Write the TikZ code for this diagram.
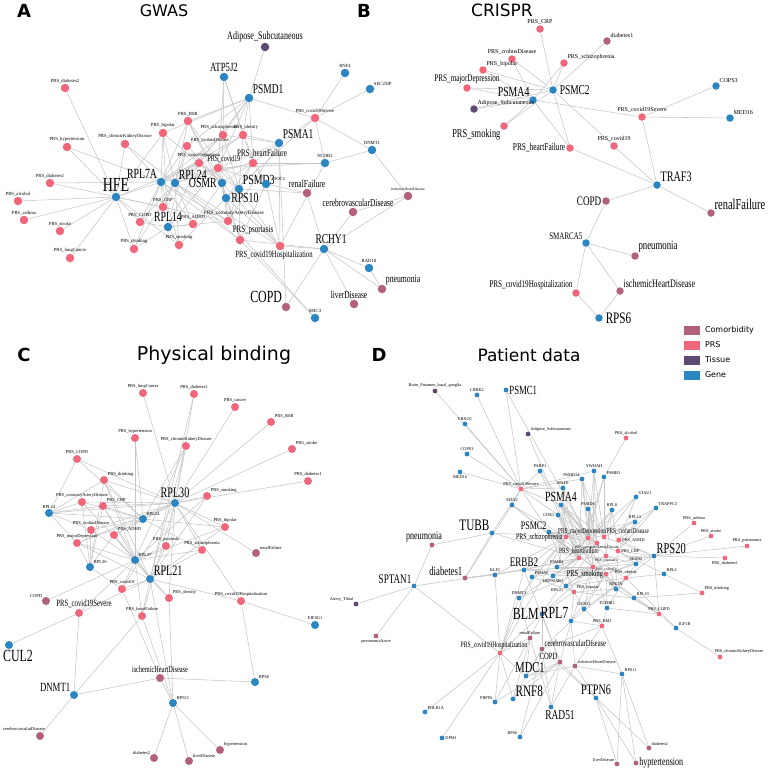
\documentclass[tikz,border=0pt]{standalone}
\usepackage{fontspec}
\usepackage{tikz}
\usetikzlibrary{backgrounds}
\newfontfamily\lbl{Liberation Serif}
\newfontfamily\lblc[FakeStretch=0.7]{Liberation Serif}
\newfontfamily\hdr{DejaVu Sans}
\definecolor{genec}{HTML}{2A85C0}
\definecolor{prsc}{HTML}{F0667A}
\definecolor{comc}{HTML}{B3607B}
\definecolor{tisc}{HTML}{5E4A72}
\definecolor{linec}{HTML}{C6C6C6}
\begin{document}
\begin{tikzpicture}
    [
    x=1pt,y=-1pt,
    nsz/.style={minimum size=8.5pt},
    gene/.style={circle,fill=genec,inner sep=0pt,nsz},
    prs/.style={circle,fill=prsc,inner sep=0pt,nsz},
    com/.style={circle,fill=comc,inner sep=0pt,nsz},
    tis/.style={circle,fill=tisc,inner sep=0pt,nsz},
    fs/.style={font=\lbl\fontsize{#1}{#1}\selectfont},
    fc/.style={font=\lblc\fontsize{#1}{#1}\selectfont},
    tl/.style={fs=4.7},
    every label/.style={inner sep=0.6pt,text=black},
    every edge/.style={draw=linec,line width=0.55pt},
    ttl/.style={font=\hdr\fontsize{#1}{#1}\selectfont},
    ltr/.style={font=\hdr\bfseries\fontsize{18}{18}\selectfont},
    key/.style={rectangle,inner sep=0pt,minimum width=16pt,minimum height=9pt}
    ]
    \useasboundingbox (0,0) rectangle (768,769);

    \node (tA) at (24,11) [ltr] {A};
    \node (tGWAS) at (164,11) [ttl=16] {GWAS};
    \node (tB) at (364,11) [ltr] {B};
    \node (tCRISPR) at (502,10) [ttl=17] {CRISPR};
    \node (tC) at (24,355) [ltr] {C};
    \node (tPhys) at (214,355) [ttl=19] {Physical binding};
    \node (tD) at (379,355) [ltr] {D};
    \node (tPat) at (529,355) [ttl=17] {Patient data};

    \node (lgCom) at (692,330) [key,fill=comc,label={[ttl=8,label distance=4pt]right:Comorbidity}] {};
    \node (lgPRS) at (692,345) [key,fill=prsc,label={[ttl=8,label distance=4pt]right:PRS}] {};
    \node (lgTis) at (692,360) [key,fill=tisc,label={[ttl=8,label distance=4pt]right:Tissue}] {};
    \node (lgGene) at (692,375) [key,fill=genec,label={[ttl=8,label distance=4pt]right:Gene}] {};

    \begin{scope}[nsz/.style={minimum size=8.5pt},tl/.style={fs=4.7}]
    \node (aHFE) at (116,197) [gene,label={[fc=20]above:HFE}] {};
    \node (aRPL7A) at (161,182) [gene,label={[fc=14]above left:RPL7A}] {};
    \node (aRPL24) at (175,183) [gene,label={[fc=14]above right:RPL24}] {};
    \node (aRPL14) at (168,227) [gene,label={[fc=14]above:RPL14}] {};
    \node (aOSMR) at (222,183) [gene,label={[fc=14]left:OSMR}] {};
    \node (aPSMD3) at (239,189) [gene,label={[fc=14]above right:PSMD3}] {};
    \node (aNOC1) at (266,184) [gene,label={[tl,xshift=3pt]above right:NOC1}] {};
    \node (aRPS10) at (226,198) [gene,label={[fc=14]right:RPS10}] {};
    \node (aATP5J2) at (224,77) [gene,label={[fc=12.5]above:ATP5J2}] {};
    \node (aPSMD1) at (249,98) [gene,label={[fc=13.5]above right:PSMD1}] {};
    \node (aPSMA1) at (279,143) [gene,label={[fc=13.5]above right:PSMA1}] {};
    \node (aRNF4) at (345,73) [gene,label={[tl]above:RNF4}] {};
    \node (aSEC23IP) at (370,89) [gene,label={[tl]above right:SEC23IP}] {};
    \node (aDNMT1) at (372,150) [gene,label={[tl]above:DNMT1}] {};
    \node (aNCOR2) at (325,163) [gene,label={[tl]above:NCOR2}] {};
    \node (aRCHY1) at (324,249) [gene,label={[fc=13.5,xshift=7pt]above:RCHY1}] {};
    \node (aRAD18) at (369,268) [gene,label={[tl]above:RAD18}] {};
    \node (aSMC3) at (315,318) [gene,label={[tl]above:SMC3}] {};
    \node (aAdipose) at (265,47) [tis,label={[fc=11.5]above:Adipose\_Subcutaneous}] {};
    \node (aPdiab2) at (65,88) [prs,label={[tl]above:PRS\_diabetes2}] {};
    \node (aPhyp) at (67,147) [prs,label={[tl]above:PRS\_hypertension}] {};
    \node (aPckd) at (125,144) [prs,label={[tl]above:PRS\_chronicKidneyDisease}] {};
    \node (aPbip) at (163,133) [prs,label={[tl]above:PRS\_bipolar}] {};
    \node (aPbmi) at (188,121) [prs,label={[tl]above:PRS\_BMI}] {};
    \node (aPcrohn) at (187,146) [prs,label={[tl]above right:PRS\_crohnsDisease}] {};
    \node (aPmdd) at (199,163) [prs,label={[tl]above:PRS\_majorDepression}] {};
    \node (aPschz) at (223,135) [prs,label={[tl,xshift=-4pt]above:PRS\_schizophrenia}] {};
    \node (aPobes) at (243,135) [prs,label={[tl,xshift=3pt]above:PRS\_obesity}] {};
    \node (aPcov) at (218,168) [prs,label={[fc=8.5,xshift=6pt]above:PRS\_covid19}] {};
    \node (aPhf) at (253,163) [prs,label={[fc=10,xshift=9pt]above:PRS\_heartFailure}] {};
    \node (aPsev) at (315,118) [prs,label={[tl]above:PRS\_covid19Severe}] {};
    \node (aPdiab1) at (50,183) [prs,label={[tl]above:PRS\_diabetes1}] {};
    \node (aPalc) at (18,201) [prs,label={[tl]above:PRS\_alcohol}] {};
    \node (aPasth) at (24,220) [prs,label={[tl]above:PRS\_asthma}] {};
    \node (aPstroke) at (60,231) [prs,label={[tl]above:PRS\_stroke}] {};
    \node (aPlung) at (70,258) [prs,label={[tl]above:PRS\_lungCancer}] {};
    \node (aPcrp) at (163,207) [prs,label={[tl]above:PRS\_CRP}] {};
    \node (aPcopd) at (140,222) [prs,label={[tl]above:PRS\_COPD}] {};
    \node (aPdrink) at (134,249) [prs,label={[tl]above:PRS\_drinking}] {};
    \node (aPsmok) at (179,245) [prs,label={[tl]above:PRS\_smoking}] {};
    \node (aPadhd) at (193,224) [prs,label={[tl]above:PRS\_ADHD}] {};
    \node (aPcad) at (228,221) [prs,label={[fs=5.2,xshift=6pt]above:PRS\_coronaryArteryDisease}] {};
    \node (aPpso) at (240,240) [prs,label={[fc=10,xshift=13pt]above:PRS\_psoriasis}] {};
    \node (aPhosp) at (280,246) [prs,label={[fc=9.5,xshift=-6pt]below:PRS\_covid19Hospitalization}] {};
    \node (aRenal) at (307,193) [com,label={[fc=10.7]above:renalFailure}] {};
    \node (aCereb) at (353,212) [com,label={[fc=10.7,xshift=5pt]above:cerebrovascularDisease}] {};
    \node (aIhd) at (408,196) [com,label={[fs=3.8]above:ischemicHeartDisease}] {};
    \node (aPneu) at (382,289) [com,label={[fc=11]above right:pneumonia}] {};
    \node (aLiver) at (354,304) [com,label={[fc=10.5,xshift=-5pt]above:liverDisease}] {};
    \node (aCOPD) at (286,307) [com,label={[fc=17]above left:COPD}] {};
    \begin{pgfonlayer}{background}
    \path (aHFE) edge (aPdiab2) edge (aPhyp) edge (aPckd) edge (aPdiab1) edge (aPalc) edge (aPasth) edge (aPstroke) edge (aPlung) edge (aPcopd) edge (aPdrink) edge (aPcrp) edge (aRPL7A) edge (aPbip) edge (aPmdd) edge (aPsmok) edge (aPcad);
    \path (aRPL7A) edge (aPhyp) edge (aPckd) edge (aPdiab1) edge (aPbip) edge (aPbmi) edge (aPcrohn) edge (aPmdd) edge (aPschz) edge (aPcov) edge (aPcrp) edge (aPcopd) edge (aPdrink) edge (aPsmok) edge (aPadhd) edge (aPcad) edge (aPpso) edge (aPhf) edge (aPobes);
    \path (aRPL24) edge (aPbip) edge (aPbmi) edge (aPcrohn) edge (aPmdd) edge (aPschz) edge (aPobes) edge (aPcov) edge (aPhf) edge (aPcrp) edge (aPcopd) edge (aPsmok) edge (aPadhd) edge (aPcad) edge (aPpso) edge (aPdrink) edge (aPhosp) edge (aPckd);
    \path (aRPL14) edge (aPcrp) edge (aPcopd) edge (aPdrink) edge (aPsmok) edge (aPadhd) edge (aPmdd) edge (aPbip) edge (aPcrohn) edge (aPcad) edge (aPcov);
    \path (aOSMR) edge (aPbmi) edge (aPschz) edge (aPmdd) edge (aPcov) edge (aPhf) edge (aPcad) edge (aPpso) edge (aPhosp) edge (aPadhd) edge (aPcrohn) edge (aPbip);
    \path (aPSMD3) edge (aPschz) edge (aPobes) edge (aPcov) edge (aPhf) edge (aPcad) edge (aPpso) edge (aPhosp) edge (aRenal) edge (aPmdd) edge (aPbmi);
    \path (aRPS10) edge (aPcov) edge (aPhf) edge (aPcad) edge (aPpso) edge (aPhosp) edge (aPsmok) edge (aPbmi) edge (aPsev);
    \path (aNOC1) edge (aPhf) edge (aPcov) edge (aPpso) edge (aPhosp) edge (aRenal) edge (aPobes);
    \path (aPSMD1) edge (aAdipose) edge (aPbmi) edge (aPschz) edge (aPobes) edge (aPcov) edge (aPhf) edge (aPmdd) edge (aPsev) edge (aPbip) edge (aPcrohn);
    \path (aPSMA1) edge (aPschz) edge (aPobes) edge (aPhf) edge (aPcov) edge (aPsev) edge (aPhosp) edge (aPcad) edge (aCOPD);
    \path (aATP5J2) edge (aPschz) edge (aPhf) edge (aPobes) edge (aPcov);
    \path (aPsev) edge (aRNF4) edge (aSEC23IP) edge (aDNMT1) edge (aNCOR2);
    \path (aNCOR2) edge (aPhf) edge (aPcov) edge (aPhosp) edge (aDNMT1);
    \path (aRCHY1) edge (aRenal) edge (aCereb) edge (aPhosp) edge (aPpso) edge (aCOPD) edge (aRAD18) edge (aLiver) edge (aPneu) edge (aIhd);
    \path (aSMC3) edge (aPpso) edge (aPcad);
    \path (aRAD18) edge (aPneu);
    \path (aCereb) edge (aIhd);
    \path (aDNMT1) edge (aIhd);
    \end{pgfonlayer}
    \end{scope}

    \begin{scope}[nsz/.style={minimum size=7.5pt},tl/.style={fs=6}]
    \node (bPSMA4) at (533,100) [gene,label={[fc=14]above left:PSMA4}] {};
    \node (bPSMC2) at (553,90) [gene,label={[fc=13.5,label distance=2pt]right:PSMC2}] {};
    \node (bCOPS3) at (716,86) [gene,label={[tl]above right:COPS3}] {};
    \node (bMED16) at (730,118) [gene,label={[tl]above right:MED16}] {};
    \node (bTRAF3) at (657,185) [gene,label={[fc=14.5]above right:TRAF3}] {};
    \node (bSMARCA5) at (586,243) [gene,label={[fc=10]above left:SMARCA5}] {};
    \node (bRPS6) at (599,318) [gene,label={[fc=16,label distance=2pt]right:RPS6}] {};
    \node (bAdipose) at (474,109) [tis,label={[tl]above right:Adipose\_Subcutaneous}] {};
    \node (bPcrp) at (540,29) [prs,label={[tl]above:PRS\_CRP}] {};
    \node (bPcrohn) at (512,59) [prs,label={[tl]above:PRS\_crohnsDisease}] {};
    \node (bPschz) at (564,63) [prs,label={[tl]above right:PRS\_schizophrenia}] {};
    \node (bPbip) at (483,70) [prs,label={[tl]above right:PRS\_bipolar}] {};
    \node (bPmdd) at (467,88) [prs,label={[fc=10.2]above:PRS\_majorDepression}] {};
    \node (bPsmok) at (504,126) [prs,label={[fc=12]below left:PRS\_smoking}] {};
    \node (bPhf) at (570,148) [prs,label={[fc=10.5]left:PRS\_heartFailure}] {};
    \node (bPcov) at (614,146) [prs,label={[tl]above:PRS\_covid19}] {};
    \node (bPsev) at (642,117) [prs,label={[tl]above:PRS\_covid19Severe}] {};
    \node (bPhosp) at (576,293) [prs,label={[fc=10.2]above left:PRS\_covid19Hospitalization}] {};
    \node (bDiab1) at (607,41) [com,label={[tl]above right:diabetes1}] {};
    \node (bCOPD) at (606,201) [com,label={[fc=13]left:COPD}] {};
    \node (bRenal) at (711,213) [com,label={[fc=15]above right:renalFailure}] {};
    \node (bPneu) at (635,256) [com,label={[fc=12.5]above right:pneumonia}] {};
    \node (bIhd) at (620,291) [com,label={[fc=11.5]above right:ischemicHeartDisease}] {};
    \begin{pgfonlayer}{background}
    \path (bPSMA4) edge (bPcrohn) edge (bPschz) edge (bPbip) edge (bPmdd) edge (bAdipose) edge (bPsmok) edge (bPhf) edge (bPsev);
    \path (bPSMC2) edge (bPcrp) edge (bDiab1) edge (bPcrohn) edge (bPschz) edge (bPbip) edge (bPmdd) edge (bAdipose) edge (bPsmok) edge (bPhf) edge (bPcov);
    \path (bPsev) edge (bCOPS3) edge (bMED16) edge (bTRAF3);
    \path (bTRAF3) edge (bPhf) edge (bPcov) edge (bCOPD) edge (bRenal);
    \path (bSMARCA5) edge (bCOPD) edge (bPneu) edge (bIhd) edge (bPhosp);
    \path (bRPS6) edge (bPhosp) edge (bIhd);
    \end{pgfonlayer}
    \end{scope}

    \begin{scope}[nsz/.style={minimum size=8pt},tl/.style={fs=4.5}]
    \node (cRPL30) at (175,503) [gene,label={[fc=14.5]above:RPL30}] {};
    \node (cRPL24) at (143,519) [gene,label={[tl]above right:RPL24}] {};
    \node (cRPL14) at (49,513) [gene,label={[tl]above:RPL14}] {};
    \node (cRPL37) at (135,560) [gene,label={[tl]above right:RPL37}] {};
    \node (cRPL36) at (90,567) [gene,label={[tl]above right:RPL36}] {};
    \node (cRPL21) at (150,579) [gene,label={[fc=14.5]above right:RPL21}] {};
    \node (cEIF4G1) at (315,625) [gene,label={[tl]above:EIF4G1}] {};
    \node (cCUL2) at (9,645) [gene,label={[fc=17,xshift=9pt]below:CUL2}] {};
    \node (cRPS6) at (255,682) [gene,label={[tl]above right:RPS6}] {};
    \node (cDNMT1) at (74,695) [gene,label={[fc=12.5]above left:DNMT1}] {};
    \node (cRPS11) at (173,703) [gene,label={[tl]above right:RPS11}] {};
    \node (cPlung) at (143,393) [prs,label={[tl]above:PRS\_lungCancer}] {};
    \node (cPdiab2) at (194,394) [prs,label={[tl]above:PRS\_diabetes2}] {};
    \node (cPcancer) at (235,407) [prs,label={[tl]above:PRS\_cancer}] {};
    \node (cPbmi) at (271,422) [prs,label={[tl]above right:PRS\_BMI}] {};
    \node (cPhyp) at (135,438) [prs,label={[tl]above:PRS\_hypertension}] {};
    \node (cPckd) at (186,446) [prs,label={[tl]above:PRS\_chronicKidneyDisease}] {};
    \node (cPstroke) at (292,449) [prs,label={[tl]above right:PRS\_stroke}] {};
    \node (cPcopd) at (77,459) [prs,label={[tl]above:PRS\_COPD}] {};
    \node (cPdrink) at (104,480) [prs,label={[tl]above right:PRS\_drinking}] {};
    \node (cPdiab1) at (308,481) [prs,label={[tl]above:PRS\_diabetes1}] {};
    \node (cPsmok) at (207,496) [prs,label={[tl]above right:PRS\_smoking}] {};
    \node (cPcad) at (82,502) [prs,label={[tl]above:PRS\_coronaryArteryDisease}] {};
    \node (cPcrp) at (103,506) [prs,label={[tl]above right:PRS\_CRP}] {};
    \node (cPcrohn) at (91,530) [prs,label={[tl]above:PRS\_crohnsDisease}] {};
    \node (cPadhd) at (114,535) [prs,label={[tl]above right:PRS\_ADHD}] {};
    \node (cPbip) at (225,527) [prs,label={[tl]above:PRS\_bipolar}] {};
    \node (cPmdd) at (77,543) [prs,label={[tl]above:PRS\_majorDepression}] {};
    \node (cPpso) at (166,546) [prs,label={[tl]above:PRS\_psoriasis}] {};
    \node (cPschz) at (202,550) [prs,label={[tl]above:PRS\_schizophrenia}] {};
    \node (cPcov) at (122,589) [prs,label={[tl]above:PRS\_covid19}] {};
    \node (cPobes) at (169,598) [prs,label={[tl]above right:PRS\_obesity}] {};
    \node (cPhosp) at (241,601) [prs,label={[tl]above:PRS\_covid19Hospitalization}] {};
    \node (cPsev) at (79,613) [prs,label={[fc=9.6,xshift=5pt]above:PRS\_covid19Severe}] {};
    \node (cPhf) at (142,616) [prs,label={[tl]above:PRS\_heartFailure}] {};
    \node (cRenal) at (256,553) [com,label={[tl]above right:renalFailure}] {};
    \node (cCOPD) at (46,601) [com,label={[tl]above left:COPD}] {};
    \node (cIhd) at (160,678) [com,label={[fc=9]above:ischemicHeartDisease}] {};
    \node (cCereb) at (40,736) [com,label={[tl,xshift=-16pt]above:cerebrovascularDisease}] {};
    \node (cHyp) at (220,750) [com,label={[tl]above right:hypertension}] {};
    \node (cDiab2) at (154,758) [com,label={[tl]above left:diabetes2}] {};
    \node (cLiver) at (189,761) [com,label={[tl]above right:liverDisease}] {};
    \begin{pgfonlayer}{background}
    \path (cRPL30) edge (cPlung) edge (cPdiab2) edge (cPcancer) edge (cPbmi) edge (cPstroke) edge (cPdiab1) edge (cPsmok) edge (cPckd) edge (cPdrink) edge (cPcad) edge (cPcrp) edge (cPcrohn) edge (cPadhd) edge (cPbip) edge (cPmdd) edge (cPpso) edge (cPschz) edge (cPcov) edge (cPobes) edge (cPhosp) edge (cRenal) edge (cPhf) edge (cRPL24) edge (cRPL14) edge (cPcopd);
    \path (cRPL24) edge (cPckd) edge (cPdrink) edge (cPcad) edge (cPcrp) edge (cPcrohn) edge (cPadhd) edge (cPmdd) edge (cPbip) edge (cPschz) edge (cPcopd) edge (cRPL14) edge (cPhyp);
    \path (cRPL37) edge (cPhyp) edge (cPdrink) edge (cPcad) edge (cPcrp) edge (cPcrohn) edge (cPadhd) edge (cPmdd) edge (cPpso) edge (cPschz) edge (cPcov) edge (cPobes) edge (cPhf) edge (cPsev) edge (cPckd) edge (cPbip) edge (cCOPD) edge (cPsmok);
    \path (cRPL21) edge (cPckd) edge (cPsmok) edge (cPdrink) edge (cPcrp) edge (cPadhd) edge (cPmdd) edge (cPpso) edge (cPschz) edge (cPcov) edge (cPobes) edge (cPhosp) edge (cPhf) edge (cPsev) edge (cRPS11) edge (cPbip) edge (cPdiab2);
    \path (cRPL14) edge (cPcopd) edge (cPcad) edge (cPcrp) edge (cPcrohn) edge (cPmdd) edge (cPdrink);
    \path (cRPL36) edge (cPcrohn) edge (cPadhd) edge (cPmdd) edge (cPcad) edge (cPcov) edge (cPcrp) edge (cPdrink);
    \path (cPsev) edge (cCUL2) edge (cDNMT1);
    \path (cDNMT1) edge (cIhd) edge (cCereb) edge (cPhf);
    \path (cIhd) edge (cRPS6) edge (cRPS11) edge (cPcov);
    \path (cRPS11) edge (cHyp) edge (cDiab2) edge (cLiver) edge (cPobes) edge (cPhf);
    \path (cEIF4G1) edge (cPhosp);
    \path (cRPS6) edge (cPhosp);
    \end{pgfonlayer}
    \end{scope}

    \begin{scope}[nsz/.style={minimum size=4.8pt},tl/.style={fs=4.3}]
    \node (dBrain) at (435,391) [tis,label={[tl]above:Brain\_Putamen\_basal\_ganglia}] {};
    \node (dLRRK2) at (477,395) [gene,label={[tl]above:LRRK2}] {};
    \node (dPSMC1) at (506,390) [gene,label={[fc=12.5]right:PSMC1}] {};
    \node (dFBXO5) at (465,424) [gene,label={[tl]above:FBXO5}] {};
    \node (dAdipose) at (528,434) [tis,label={[tl]above right:Adipose\_Subcutaneous}] {};
    \node (dCOPS3) at (467,454) [gene,label={[tl]above:COPS3}] {};
    \node (dMED16) at (460,472) [gene,label={[tl]below:MED16}] {};
    \node (dPARP1) at (540,471) [gene,label={[tl]above:PARP1}] {};
    \node (dYWHAH) at (594,471) [gene,label={[tl]above:YWHAH}] {};
    \node (dPSMD14) at (582,479) [gene,label={[tl]above left:PSMD14}] {};
    \node (dPSMB3) at (604,477) [gene,label={[tl]above right:PSMB3}] {};
    \node (dSIAH1) at (563,488) [gene,label={[tl]above:SIAH1}] {};
    \node (dMTA2) at (512,505) [gene,label={[tl]above:MTA2}] {};
    \node (dPSMA4) at (561,505) [gene,label={[fc=14]above:PSMA4}] {};
    \node (dSTAU1) at (636,497) [gene,label={[tl]above right:STAU1}] {};
    \node (dPSMD6) at (588,509) [gene,label={[tl]above:PSMD6}] {};
    \node (dRPL8) at (612,510) [gene,label={[tl]above:RPL8}] {};
    \node (dTRAPPC5) at (656,508) [gene,label={[tl]above right:TRAPPC5}] {};
    \node (dCDK5) at (558,515) [gene,label={[tl]left:CDK5}] {};
    \node (dRPL13) at (635,522) [gene,label={[tl]above:RPL13}] {};
    \node (dTUBB) at (492,533) [gene,label={[fc=16]above left:TUBB}] {};
    \node (dPSMC2) at (549,532) [gene,label={[fc=11.5]above left:PSMC2}] {};
    \node (dRPS20) at (654,556) [gene,label={[fc=15]above right:RPS20}] {};
    \node (dSESN2) at (636,564) [gene,label={[tl]above:SESN2}] {};
    \node (dPSMB1) at (557,567) [gene,label={[tl]above:PSMB1}] {};
    \node (dERBB2) at (524,570) [gene,label={[fc=13]above:ERBB2}] {};
    \node (dPSMA6) at (532,577) [gene,label={[tl]above right:PSMA6}] {};
    \node (dHSP) at (553,576) [gene,label={[tl]below:HSP90AB1}] {};
    \node (dKLF5) at (495,575) [gene,label={[tl]above:KLF5}] {};
    \node (dRPL6) at (664,574) [gene,label={[tl]above right:RPL6}] {};
    \node (dRPL21) at (566,586) [gene,label={[tl]below left:RPL21}] {};
    \node (dRPL7A) at (616,589) [gene,label={[tl]above:RPL7A}] {};
    \node (dRPL19) at (634,598) [gene,label={[tl]above right:RPL19}] {};
    \node (dDNMT1) at (519,598) [gene,label={[tl]above:DNMT1}] {};
    \node (dGSTO1) at (584,609) [gene,label={[tl]above:GSTO1}] {};
    \node (dTGFBR1) at (607,608) [gene,label={[tl]above:TGFBR1}] {};
    \node (dBLM) at (542,614) [gene,label={[fc=17]left:BLM}] {};
    \node (dRPL7) at (571,621) [gene,label={[fc=17]above left:RPL7}] {};
    \node (dIGF1R) at (676,628) [gene,label={[tl]above right:IGF1R}] {};
    \node (dSPTAN1) at (414,586) [gene,label={[fc=13]above left:SPTAN1}] {};
    \node (dMDC1) at (526,676) [gene,label={[fc=15,xshift=4pt]above:MDC1}] {};
    \node (dRNF8) at (513,699) [gene,label={[fc=16]above right:RNF8}] {};
    \node (dPRPF6) at (495,702) [gene,label={[tl]above left:PRPF6}] {};
    \node (dRAD51) at (551,707) [gene,label={[fc=13.5,xshift=9pt]below:RAD51}] {};
    \node (dPOLR1A) at (425,712) [gene,label={[tl]above right:POLR1A}] {};
    \node (dRPS6) at (520,737) [gene,label={[tl]above left:RPS6}] {};
    \node (dDPM1) at (442,738) [gene,label={[tl]right:DPM1}] {};
    \node (dRPS11) at (622,674) [gene,label={[tl]above right:RPS11}] {};
    \node (dPTPN6) at (596,698) [gene,label={[fc=14.5]above:PTPN6}] {};
    \node (dArtery) at (356,604) [tis,label={[tl]above left:Artery\_Tibial}] {};
    \node (dPsev) at (521,489) [prs,label={[tl]above:PRS\_covid19Severe}] {};
    \node (dPschz) at (566,537) [prs,label={[fc=8.5]left:PRS\_schizophrenia}] {};
    \node (dPmdd) at (588,538) [prs,label={[fc=7.5,xshift=-6pt]above:PRS\_majorDepression}] {};
    \node (dPcrohn) at (604,537) [prs,label={[fc=7.5]above right:PRS\_crohnsDisease}] {};
    \node (dPadhd) at (619,540) [prs,label={[tl]right:PRS\_ADHD}] {};
    \node (dPcad) at (597,543) [prs,label={[fs=3.8]below:PRS\_coronaryArteryDisease}] {};
    \node (dPcrp) at (618,551) [prs,label={[tl]right:PRS\_CRP}] {};
    \node (dPhf) at (579,558) [prs,label={[fc=8]above:PRS\_heartFailure}] {};
    \node (dPpso) at (606,556) [prs,label={[fs=3.8]below:PRS\_psoriasis}] {};
    \node (dPsmok) at (593,567) [prs,label={[fc=9,xshift=-8pt]below:PRS\_smoking}] {};
    \node (dPcov) at (606,574) [prs,label={[fs=3.8]above:PRS\_covid19}] {};
    \node (dPobes) at (626,578) [prs,label={[tl]above:PRS\_obesity}] {};
    \node (dPbip) at (574,592) [prs,label={[tl]above right:PRS\_bipolar}] {};
    \node (dPcopd) at (659,614) [prs,label={[tl]above:PRS\_COPD}] {};
    \node (dPbmi) at (602,626) [prs,label={[tl]above:PRS\_BMI}] {};
    \node (dPckd) at (720,657) [prs,label={[tl,xshift=19pt]above:PRS\_chronicKidneyDisease}] {};
    \node (dPalc) at (626,438) [prs,label={[tl]above:PRS\_alcohol}] {};
    \node (dPasth) at (694,523) [prs,label={[tl]above:PRS\_asthma}] {};
    \node (dPstroke) at (711,536) [prs,label={[tl]above:PRS\_stroke}] {};
    \node (dPpneu) at (747,546) [prs,label={[tl]above:PRS\_pneumonia}] {};
    \node (dPdiab1) at (725,558) [prs,label={[tl]below:PRS\_diabetes1}] {};
    \node (dPdrink) at (702,593) [prs,label={[tl]above right:PRS\_drinking}] {};
    \node (dPhosp) at (500,653) [prs,label={[fc=8.2,xshift=-6pt]above:PRS\_covid19Hospitalization}] {};
    \node (dPneu) at (432,545) [com,label={[fc=11.5,xshift=-8pt]above:pneumonia}] {};
    \node (dDiab1) at (465,578) [com,label={[fc=12.5]above left:diabetes1}] {};
    \node (dPneuA) at (376,636) [com,label={[tl]below:pneumoniaAcute}] {};
    \node (dRenal) at (530,638) [com,label={[tl]above:renalFailure}] {};
    \node (dCereb) at (542,649) [com,label={[fc=9.3]above right:cerebrovascularDisease}] {};
    \node (dCOPD) at (560,662) [com,label={[fc=9.5]above left:COPD}] {};
    \node (dIhd) at (575,666) [com,label={[tl]above right:ischemicHeartDisease}] {};
    \node (dDiab2) at (649,748) [com,label={[tl]above right:diabetes2}] {};
    \node (dLiver) at (617,764) [com,label={[tl]above left:liverDisease}] {};
    \node (dHyp) at (636,763) [com,label={[fc=11.5]right:hyptertension}] {};
    \begin{pgfonlayer}{background}
    \path (dPsev) edge (dBrain) edge (dLRRK2) edge (dPSMC1) edge (dFBXO5) edge (dCOPS3) edge (dMED16) edge (dPARP1) edge (dPSMD14) edge (dSIAH1) edge (dMTA2) edge (dTUBB) edge (dPSMA4) edge (dCDK5) edge (dYWHAH) edge (dPSMC2);
    \path (dPSMC1) edge (dPmdd);
    \path (dAdipose) edge (dPhf);
    \path (dPalc) edge (dPSMB3);
    \path (dSPTAN1) edge (dPneu) edge (dArtery) edge (dPneuA) edge (dPhosp) edge (dERBB2);
    \path (dTUBB) edge (dPneu) edge (dPschz) edge (dPhf) edge (dDiab1);
    \path (dDiab1) edge (dERBB2) edge (dMTA2) edge (dKLF5);
    \path (dPhosp) edge (dPOLR1A) edge (dDPM1) edge (dPRPF6) edge (dRNF8) edge (dMDC1) edge (dDNMT1) edge (dBLM) edge (dKLF5) edge (dRenal) edge (dERBB2) edge (dPSMA6) edge (dPschz);
    \path (dRPS6) edge (dCOPD) edge (dCereb);
    \path (dRNF8) edge (dCOPD) edge (dCereb) edge (dRenal);
    \path (dMDC1) edge (dCOPD) edge (dCereb) edge (dRenal) edge (dIhd);
    \path (dRAD51) edge (dCOPD) edge (dCereb) edge (dIhd) edge (dRenal);
    \path (dPRPF6) edge (dRenal) edge (dCOPD);
    \path (dPTPN6) edge (dHyp) edge (dLiver) edge (dDiab2) edge (dIhd) edge (dCOPD) edge (dCereb);
    \path (dRPS11) edge (dHyp) edge (dDiab2) edge (dLiver) edge (dPbmi) edge (dIhd);
    \path (dIGF1R) edge (dPckd) edge (dPcopd) edge (dPobes);
    \path (dRPS20) edge (dPasth) edge (dPstroke) edge (dPpneu) edge (dPdiab1) edge (dPcrp) edge (dPadhd) edge (dPcrohn) edge (dPobes) edge (dPcov) edge (dPsmok) edge (dPcopd) edge (dPhf);
    \path (dRPL6) edge (dPdrink) edge (dPobes) edge (dPcrp);
    \path (dRPL19) edge (dPdrink) edge (dPcopd) edge (dPsmok) edge (dPbip);
    \path (dTRAPPC5) edge (dPcrp) edge (dPadhd) edge (dPcrohn);
    \path (dSTAU1) edge (dPcrohn) edge (dPadhd) edge (dPmdd);
    \path (dRPL13) edge (dPcrohn) edge (dPcrp) edge (dPschz);
    \path (dPSMA4) edge (dPschz) edge (dPmdd) edge (dPcrohn) edge (dPhf) edge (dPsmok) edge (dPcad) edge (dPpso) edge (dPcov);
    \path (dPSMC2) edge (dPschz) edge (dPmdd) edge (dPcrohn) edge (dPhf) edge (dPsmok) edge (dPcad) edge (dPcrp) edge (dPbip) edge (dPobes);
    \path (dPSMD14) edge (dPmdd) edge (dPcrohn) edge (dPhf) edge (dPsmok) edge (dPcad);
    \path (dYWHAH) edge (dPmdd) edge (dPcrohn) edge (dPsmok) edge (dPcad);
    \path (dPSMB3) edge (dPcrohn) edge (dPmdd) edge (dPhf) edge (dPpso);
    \path (dSIAH1) edge (dPschz) edge (dPmdd) edge (dPhf);
    \path (dCDK5) edge (dPschz) edge (dPhf) edge (dPsmok) edge (dPcad);
    \path (dPSMD6) edge (dPmdd) edge (dPcrohn) edge (dPcad) edge (dPsmok);
    \path (dRPL8) edge (dPmdd) edge (dPcrohn) edge (dPcrp) edge (dPhf) edge (dPpso);
    \path (dMTA2) edge (dPschz) edge (dPhf) edge (dPsmok);
    \path (dPARP1) edge (dPmdd) edge (dPhf);
    \path (dSESN2) edge (dPcrp) edge (dPcov) edge (dPobes) edge (dPsmok) edge (dPpso);
    \path (dPSMB1) edge (dPschz) edge (dPhf) edge (dPsmok) edge (dPcov) edge (dPmdd);
    \path (dPSMA6) edge (dPhf) edge (dPsmok) edge (dPbip) edge (dPschz);
    \path (dHSP) edge (dPhf) edge (dPsmok) edge (dPcov) edge (dPcad) edge (dPbip);
    \path (dERBB2) edge (dPschz) edge (dPhf) edge (dPsmok) edge (dPcov) edge (dCOPD);
    \path (dKLF5) edge (dPschz) edge (dPhf);
    \path (dRPL21) edge (dPsmok) edge (dPcov) edge (dPobes) edge (dPbip) edge (dPpso) edge (dPcad);
    \path (dRPL7A) edge (dPsmok) edge (dPcov) edge (dPobes) edge (dPcrp) edge (dPpso) edge (dPbip) edge (dPcopd);
    \path (dGSTO1) edge (dPsmok) edge (dPbip) edge (dPobes) edge (dPbmi) edge (dPcov);
    \path (dTGFBR1) edge (dPsmok) edge (dPobes) edge (dPcov) edge (dPbmi) edge (dPcopd);
    \path (dBLM) edge (dPsmok) edge (dPbip) edge (dPhf) edge (dCereb) edge (dCOPD) edge (dRenal);
    \path (dRPL7) edge (dPsmok) edge (dPbip) edge (dPobes) edge (dPbmi) edge (dCereb) edge (dCOPD) edge (dIhd) edge (dPcov);
    \path (dDNMT1) edge (dPhf) edge (dPsmok) edge (dPschz) edge (dRenal);
    \path (dPbmi) edge (dIhd) edge (dCereb);
    \path (dPcopd) edge (dPsmok);
    \end{pgfonlayer}
    \end{scope}
\end{tikzpicture}
\end{document}
